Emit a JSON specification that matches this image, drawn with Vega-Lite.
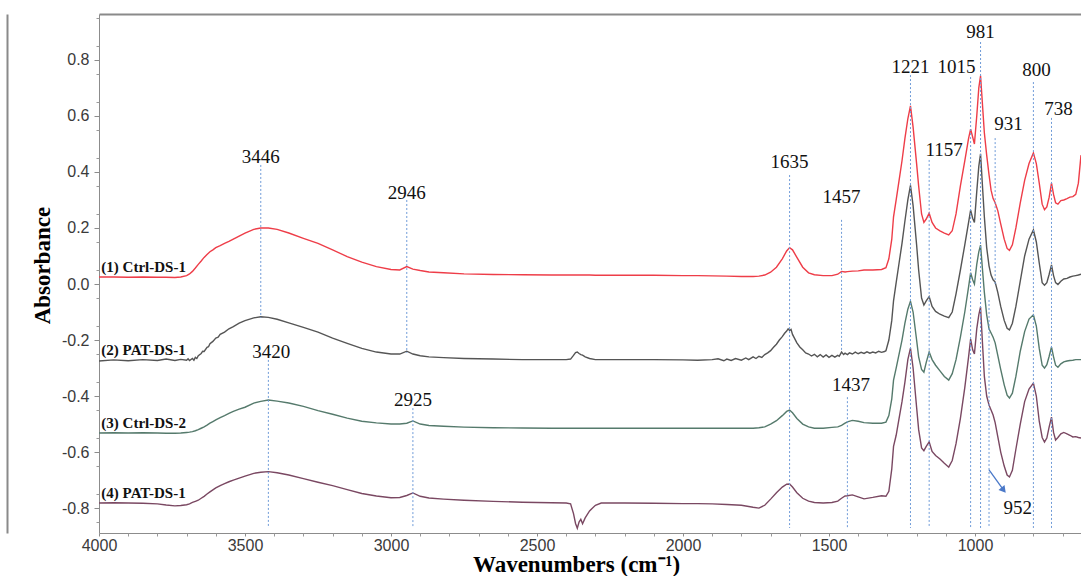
{
  "$schema": "https://vega.github.io/schema/vega-lite/v6.json",
  "width": 982,
  "height": 519,
  "autosize": {"type": "none"},
  "padding": {"left": 99, "top": 14, "right": 0, "bottom": 43},
  "background": "#ffffff",
  "config": {"view": {"stroke": null}, "font": "Liberation Sans"},
  "datasets": {
    "spectra": [
      {"wn": 4000, "s1": 0.025, "s2": -0.275, "s3": -0.532, "s4": -0.782},
      {"wn": 3950, "s1": 0.025, "s2": -0.271, "s3": -0.531, "s4": -0.781},
      {"wn": 3900, "s1": 0.024, "s2": -0.274, "s3": -0.532, "s4": -0.782},
      {"wn": 3850, "s1": 0.025, "s2": -0.27, "s3": -0.531, "s4": -0.783},
      {"wn": 3800, "s1": 0.024, "s2": -0.273, "s3": -0.532, "s4": -0.785},
      {"wn": 3770, "s1": 0.024, "s2": -0.268, "s3": -0.533, "s4": -0.789},
      {"wn": 3740, "s1": 0.023, "s2": -0.273, "s3": -0.533, "s4": -0.792},
      {"wn": 3720, "s1": 0.025, "s2": -0.269, "s3": -0.532, "s4": -0.791},
      {"wn": 3700, "s1": 0.03, "s2": -0.272, "s3": -0.53, "s4": -0.788},
      {"wn": 3695, "s2": -0.267},
      {"wn": 3690, "s1": 0.036, "s2": -0.273, "s3": -0.529, "s4": -0.785},
      {"wn": 3680, "s1": 0.045, "s2": -0.266, "s3": -0.527, "s4": -0.78},
      {"wn": 3675, "s2": -0.272},
      {"wn": 3670, "s1": 0.057, "s2": -0.262, "s3": -0.524, "s4": -0.776},
      {"wn": 3665, "s2": -0.266},
      {"wn": 3660, "s1": 0.07, "s2": -0.256, "s3": -0.52, "s4": -0.772},
      {"wn": 3650, "s1": 0.082, "s2": -0.248, "s3": -0.515, "s4": -0.765},
      {"wn": 3645, "s2": -0.24},
      {"wn": 3640, "s1": 0.095, "s2": -0.241, "s3": -0.51, "s4": -0.758},
      {"wn": 3630, "s1": 0.105, "s2": -0.226, "s3": -0.504, "s4": -0.75},
      {"wn": 3625, "s2": -0.224},
      {"wn": 3620, "s1": 0.115, "s2": -0.213, "s3": -0.497, "s4": -0.742},
      {"wn": 3610, "s1": 0.122, "s2": -0.205, "s3": -0.491, "s4": -0.735},
      {"wn": 3600, "s1": 0.13, "s2": -0.193, "s3": -0.485, "s4": -0.728},
      {"wn": 3592, "s2": -0.19},
      {"wn": 3585, "s1": 0.137, "s2": -0.18, "s3": -0.477, "s4": -0.72},
      {"wn": 3570, "s1": 0.145, "s2": -0.172, "s3": -0.47, "s4": -0.713},
      {"wn": 3555, "s1": 0.152, "s2": -0.16, "s3": -0.462, "s4": -0.706},
      {"wn": 3540, "s1": 0.16, "s2": -0.152, "s3": -0.455, "s4": -0.7},
      {"wn": 3520, "s1": 0.171, "s2": -0.14, "s3": -0.447, "s4": -0.693},
      {"wn": 3500, "s1": 0.182, "s2": -0.131, "s3": -0.44, "s4": -0.686},
      {"wn": 3470, "s1": 0.195, "s2": -0.121, "s3": -0.425, "s4": -0.676},
      {"wn": 3446, "s1": 0.2, "s2": -0.117, "s3": -0.419, "s4": -0.672},
      {"wn": 3420, "s1": 0.2, "s2": -0.119, "s3": -0.414, "s4": -0.67},
      {"wn": 3390, "s1": 0.195, "s2": -0.126, "s3": -0.418, "s4": -0.674},
      {"wn": 3350, "s1": 0.182, "s2": -0.139, "s3": -0.425, "s4": -0.682},
      {"wn": 3300, "s1": 0.163, "s2": -0.155, "s3": -0.437, "s4": -0.695},
      {"wn": 3250, "s1": 0.145, "s2": -0.172, "s3": -0.452, "s4": -0.708},
      {"wn": 3200, "s1": 0.122, "s2": -0.193, "s3": -0.465, "s4": -0.72},
      {"wn": 3150, "s1": 0.098, "s2": -0.212, "s3": -0.479, "s4": -0.734},
      {"wn": 3100, "s1": 0.078, "s2": -0.23, "s3": -0.49, "s4": -0.748},
      {"wn": 3050, "s1": 0.062, "s2": -0.243, "s3": -0.496, "s4": -0.757},
      {"wn": 3000, "s1": 0.052, "s2": -0.25, "s3": -0.5, "s4": -0.763},
      {"wn": 2970, "s1": 0.05, "s2": -0.25, "s3": -0.5, "s4": -0.762},
      {"wn": 2946, "s1": 0.062, "s2": -0.24, "s3": -0.497, "s4": -0.755},
      {"wn": 2925, "s1": 0.053, "s2": -0.25, "s3": -0.489, "s4": -0.746},
      {"wn": 2900, "s1": 0.048, "s2": -0.256, "s3": -0.5, "s4": -0.758},
      {"wn": 2870, "s1": 0.043, "s2": -0.26, "s3": -0.505, "s4": -0.764},
      {"wn": 2820, "s1": 0.04, "s2": -0.263, "s3": -0.508, "s4": -0.768},
      {"wn": 2750, "s1": 0.036, "s2": -0.266, "s3": -0.511, "s4": -0.772},
      {"wn": 2650, "s1": 0.034, "s2": -0.268, "s3": -0.513, "s4": -0.776},
      {"wn": 2550, "s1": 0.033, "s2": -0.27, "s3": -0.514, "s4": -0.779},
      {"wn": 2450, "s1": 0.032, "s2": -0.27, "s3": -0.515, "s4": -0.781},
      {"wn": 2400, "s1": 0.032, "s2": -0.27, "s3": -0.515, "s4": -0.782},
      {"wn": 2385, "s1": 0.032, "s2": -0.268, "s3": -0.515, "s4": -0.785},
      {"wn": 2375, "s1": 0.032, "s2": -0.255, "s3": -0.515, "s4": -0.82},
      {"wn": 2368, "s1": 0.032, "s2": -0.245, "s3": -0.515, "s4": -0.855},
      {"wn": 2362, "s1": 0.032, "s2": -0.243, "s3": -0.515, "s4": -0.872},
      {"wn": 2356, "s1": 0.032, "s2": -0.248, "s3": -0.515, "s4": -0.85},
      {"wn": 2350, "s1": 0.032, "s2": -0.252, "s3": -0.515, "s4": -0.84},
      {"wn": 2344, "s1": 0.032, "s2": -0.254, "s3": -0.515, "s4": -0.856},
      {"wn": 2335, "s1": 0.032, "s2": -0.26, "s3": -0.515, "s4": -0.835},
      {"wn": 2320, "s1": 0.032, "s2": -0.266, "s3": -0.515, "s4": -0.81},
      {"wn": 2300, "s1": 0.031, "s2": -0.27, "s3": -0.515, "s4": -0.79},
      {"wn": 2280, "s1": 0.031, "s2": -0.27, "s3": -0.515, "s4": -0.782},
      {"wn": 2200, "s1": 0.031, "s2": -0.27, "s3": -0.515, "s4": -0.782},
      {"wn": 2100, "s1": 0.031, "s2": -0.27, "s3": -0.515, "s4": -0.783},
      {"wn": 2000, "s1": 0.03, "s2": -0.271, "s3": -0.515, "s4": -0.784},
      {"wn": 1950, "s1": 0.03, "s2": -0.272, "s3": -0.515, "s4": -0.784},
      {"wn": 1900, "s1": 0.029, "s2": -0.27, "s3": -0.515, "s4": -0.785},
      {"wn": 1880, "s2": -0.267},
      {"wn": 1860, "s2": -0.274},
      {"wn": 1850, "s1": 0.028, "s2": -0.268, "s3": -0.515, "s4": -0.787},
      {"wn": 1835, "s2": -0.273},
      {"wn": 1820, "s2": -0.266},
      {"wn": 1800, "s1": 0.027, "s2": -0.272, "s3": -0.515, "s4": -0.79},
      {"wn": 1785, "s2": -0.264},
      {"wn": 1775, "s2": -0.27},
      {"wn": 1760, "s1": 0.027, "s2": -0.26, "s3": -0.515, "s4": -0.797},
      {"wn": 1750, "s2": -0.266},
      {"wn": 1740, "s1": 0.028, "s2": -0.258, "s3": -0.513, "s4": -0.8},
      {"wn": 1730, "s2": -0.262},
      {"wn": 1720, "s1": 0.032, "s2": -0.252, "s3": -0.51, "s4": -0.79},
      {"wn": 1710, "s2": -0.246},
      {"wn": 1700, "s1": 0.042, "s2": -0.238, "s3": -0.5, "s4": -0.768},
      {"wn": 1690, "s2": -0.226},
      {"wn": 1680, "s1": 0.06, "s2": -0.215, "s3": -0.488, "s4": -0.745},
      {"wn": 1670, "s2": -0.2},
      {"wn": 1660, "s1": 0.09, "s2": -0.188, "s3": -0.47, "s4": -0.725},
      {"wn": 1652, "s2": -0.176},
      {"wn": 1645, "s1": 0.118, "s2": -0.168, "s3": -0.455, "s4": -0.715},
      {"wn": 1640, "s2": -0.16},
      {"wn": 1635, "s1": 0.13, "s2": -0.166, "s3": -0.45, "s4": -0.714},
      {"wn": 1630, "s2": -0.162},
      {"wn": 1625, "s1": 0.122, "s2": -0.18, "s3": -0.46, "s4": -0.725},
      {"wn": 1610, "s1": 0.095, "s2": -0.21, "s3": -0.48, "s4": -0.745},
      {"wn": 1600, "s2": -0.225},
      {"wn": 1590, "s1": 0.06, "s2": -0.235, "s3": -0.5, "s4": -0.765},
      {"wn": 1580, "s2": -0.246},
      {"wn": 1570, "s1": 0.04, "s2": -0.25, "s3": -0.51, "s4": -0.775},
      {"wn": 1560, "s2": -0.257},
      {"wn": 1550, "s1": 0.033, "s2": -0.251, "s3": -0.515, "s4": -0.78},
      {"wn": 1540, "s2": -0.26},
      {"wn": 1530, "s2": -0.252},
      {"wn": 1520, "s1": 0.03, "s2": -0.261, "s3": -0.515, "s4": -0.782},
      {"wn": 1510, "s2": -0.253},
      {"wn": 1500, "s2": -0.262},
      {"wn": 1490, "s1": 0.03, "s2": -0.255, "s3": -0.512, "s4": -0.78},
      {"wn": 1480, "s2": -0.261},
      {"wn": 1470, "s1": 0.035, "s2": -0.255, "s3": -0.51, "s4": -0.775},
      {"wn": 1465, "s2": -0.258},
      {"wn": 1457, "s1": 0.045, "s2": -0.243, "s3": -0.505, "s4": -0.765},
      {"wn": 1450, "s2": -0.252},
      {"wn": 1445, "s1": 0.043, "s2": -0.247, "s3": -0.497, "s4": -0.757},
      {"wn": 1437, "s1": 0.044, "s2": -0.252, "s3": -0.492, "s4": -0.756},
      {"wn": 1430, "s2": -0.246},
      {"wn": 1420, "s1": 0.046, "s2": -0.25, "s3": -0.487, "s4": -0.753},
      {"wn": 1410, "s2": -0.243},
      {"wn": 1400, "s1": 0.047, "s2": -0.249, "s3": -0.49, "s4": -0.76},
      {"wn": 1390, "s2": -0.244},
      {"wn": 1380, "s1": 0.05, "s2": -0.248, "s3": -0.495, "s4": -0.767},
      {"wn": 1370, "s2": -0.242},
      {"wn": 1360, "s2": -0.247},
      {"wn": 1350, "s1": 0.05, "s2": -0.243, "s3": -0.497, "s4": -0.762},
      {"wn": 1340, "s2": -0.246},
      {"wn": 1330, "s2": -0.24},
      {"wn": 1320, "s1": 0.052, "s2": -0.244, "s3": -0.497, "s4": -0.756},
      {"wn": 1310, "s2": -0.241},
      {"wn": 1305, "s1": 0.058, "s2": -0.238, "s3": -0.493, "s4": -0.758},
      {"wn": 1295, "s1": 0.09, "s2": -0.2, "s3": -0.47, "s4": -0.74},
      {"wn": 1285, "s1": 0.16, "s2": -0.13, "s3": -0.41, "s4": -0.66},
      {"wn": 1279, "s1": 0.24, "s2": -0.06, "s3": -0.343, "s4": -0.58},
      {"wn": 1270, "s1": 0.3, "s2": 0.005, "s3": -0.3, "s4": -0.54},
      {"wn": 1260, "s1": 0.37, "s2": 0.075, "s3": -0.25, "s4": -0.48},
      {"wn": 1250, "s1": 0.44, "s2": 0.145, "s3": -0.2, "s4": -0.42},
      {"wn": 1240, "s1": 0.52, "s2": 0.225, "s3": -0.14, "s4": -0.35},
      {"wn": 1230, "s1": 0.59, "s2": 0.3, "s3": -0.09, "s4": -0.27},
      {"wn": 1221, "s1": 0.636, "s2": 0.352, "s3": -0.062, "s4": -0.229},
      {"wn": 1212, "s1": 0.56, "s2": 0.28, "s3": -0.1, "s4": -0.3},
      {"wn": 1200, "s1": 0.43, "s2": 0.14, "s3": -0.2, "s4": -0.44},
      {"wn": 1193, "s1": 0.35, "s2": 0.05, "s3": -0.26, "s4": -0.52},
      {"wn": 1183, "s1": 0.25, "s2": -0.05, "s3": -0.305, "s4": -0.585},
      {"wn": 1175, "s1": 0.22, "s2": -0.075, "s3": -0.315, "s4": -0.595},
      {"wn": 1167, "s1": 0.232, "s2": -0.06, "s3": -0.28, "s4": -0.58},
      {"wn": 1157, "s1": 0.253, "s2": -0.045, "s3": -0.243, "s4": -0.564},
      {"wn": 1147, "s1": 0.22, "s2": -0.08, "s3": -0.27, "s4": -0.598},
      {"wn": 1135, "s1": 0.2, "s2": -0.098, "s3": -0.29, "s4": -0.612},
      {"wn": 1120, "s1": 0.19, "s2": -0.108, "s3": -0.31, "s4": -0.625},
      {"wn": 1105, "s1": 0.182, "s2": -0.115, "s3": -0.33, "s4": -0.64},
      {"wn": 1090, "s1": 0.175, "s2": -0.12, "s3": -0.343, "s4": -0.654},
      {"wn": 1078, "s1": 0.19, "s2": -0.1, "s3": -0.32, "s4": -0.63},
      {"wn": 1065, "s1": 0.25, "s2": -0.035, "s3": -0.27, "s4": -0.57},
      {"wn": 1050, "s1": 0.35, "s2": 0.05, "s3": -0.19, "s4": -0.48},
      {"wn": 1035, "s1": 0.44, "s2": 0.14, "s3": -0.1, "s4": -0.37},
      {"wn": 1022, "s1": 0.52, "s2": 0.22, "s3": -0.01, "s4": -0.26},
      {"wn": 1015, "s1": 0.553, "s2": 0.264, "s3": 0.04, "s4": -0.197},
      {"wn": 1008, "s1": 0.525, "s2": 0.235, "s3": 0.015, "s4": -0.235},
      {"wn": 1002, "s1": 0.5, "s2": 0.22, "s3": 0.0, "s4": -0.25},
      {"wn": 994, "s1": 0.6, "s2": 0.33, "s3": 0.07, "s4": -0.16},
      {"wn": 987, "s1": 0.7, "s2": 0.42, "s3": 0.115, "s4": -0.11},
      {"wn": 981, "s1": 0.743, "s2": 0.465, "s3": 0.139, "s4": -0.082},
      {"wn": 975, "s1": 0.65, "s2": 0.36, "s3": 0.06, "s4": -0.2},
      {"wn": 968, "s1": 0.54, "s2": 0.24, "s3": -0.03, "s4": -0.33},
      {"wn": 960, "s1": 0.46, "s2": 0.13, "s3": -0.11, "s4": -0.4},
      {"wn": 952, "s1": 0.39, "s2": 0.065, "s3": -0.16, "s4": -0.432},
      {"wn": 945, "s1": 0.335, "s2": 0.032, "s3": -0.175, "s4": -0.45},
      {"wn": 938, "s1": 0.305, "s2": 0.015, "s3": -0.19, "s4": -0.468},
      {"wn": 931, "s1": 0.29, "s2": 0.007, "s3": -0.21, "s4": -0.495},
      {"wn": 922, "s1": 0.262, "s2": -0.03, "s3": -0.255, "s4": -0.545},
      {"wn": 912, "s1": 0.215, "s2": -0.08, "s3": -0.305, "s4": -0.6},
      {"wn": 900, "s1": 0.16, "s2": -0.13, "s3": -0.36, "s4": -0.65},
      {"wn": 890, "s1": 0.127, "s2": -0.158, "s3": -0.397, "s4": -0.682},
      {"wn": 882, "s1": 0.12, "s2": -0.164, "s3": -0.407, "s4": -0.689},
      {"wn": 872, "s1": 0.14, "s2": -0.14, "s3": -0.39, "s4": -0.665},
      {"wn": 860, "s1": 0.2, "s2": -0.08, "s3": -0.33, "s4": -0.59},
      {"wn": 845, "s1": 0.29, "s2": 0.01, "s3": -0.24, "s4": -0.5},
      {"wn": 830, "s1": 0.37, "s2": 0.1, "s3": -0.17, "s4": -0.42},
      {"wn": 815, "s1": 0.43, "s2": 0.16, "s3": -0.125, "s4": -0.375},
      {"wn": 800, "s1": 0.468, "s2": 0.193, "s3": -0.11, "s4": -0.354},
      {"wn": 790, "s1": 0.43, "s2": 0.15, "s3": -0.15, "s4": -0.4},
      {"wn": 780, "s1": 0.36, "s2": 0.075, "s3": -0.23, "s4": -0.49},
      {"wn": 770, "s1": 0.285, "s2": 0.005, "s3": -0.29, "s4": -0.548},
      {"wn": 762, "s1": 0.265, "s2": -0.004, "s3": -0.3, "s4": -0.564},
      {"wn": 754, "s1": 0.275, "s2": 0.005, "s3": -0.288, "s4": -0.55},
      {"wn": 746, "s1": 0.31, "s2": 0.035, "s3": -0.258, "s4": -0.51},
      {"wn": 738, "s1": 0.36, "s2": 0.068, "s3": -0.225, "s4": -0.475},
      {"wn": 731, "s1": 0.32, "s2": 0.03, "s3": -0.26, "s4": -0.53},
      {"wn": 724, "s1": 0.29, "s2": 0.005, "s3": -0.29, "s4": -0.557},
      {"wn": 716, "s1": 0.285, "s2": -0.002, "s3": -0.297, "s4": -0.548},
      {"wn": 706, "s1": 0.298, "s2": 0.01, "s3": -0.285, "s4": -0.535},
      {"wn": 696, "s1": 0.3, "s2": 0.018, "s3": -0.278, "s4": -0.53},
      {"wn": 685, "s1": 0.305, "s2": 0.02, "s3": -0.275, "s4": -0.535},
      {"wn": 675, "s1": 0.31, "s2": 0.025, "s3": -0.273, "s4": -0.54},
      {"wn": 665, "s1": 0.312, "s2": 0.028, "s3": -0.272, "s4": -0.546},
      {"wn": 655, "s1": 0.32, "s2": 0.03, "s3": -0.27, "s4": -0.545},
      {"wn": 646, "s1": 0.36, "s2": 0.032, "s3": -0.27, "s4": -0.548},
      {"wn": 637, "s1": 0.46, "s2": 0.035, "s3": -0.27, "s4": -0.55}
    ],
    "peaks": [
      {"peak": 3446, "tx": 3446, "ty": 0.454, "y1": 0.425, "y2": -0.121},
      {"peak": 2946, "tx": 2946, "ty": 0.325, "y1": 0.3, "y2": -0.246},
      {"peak": 3420, "tx": 3410, "ty": -0.243, "y1": -0.271, "y2": -0.871},
      {"peak": 2925, "tx": 2925, "ty": -0.414, "y1": -0.443, "y2": -0.871},
      {"peak": 1635, "tx": 1635, "ty": 0.436, "y1": 0.389, "y2": -0.871},
      {"peak": 1457, "tx": 1457, "ty": 0.311, "y1": 0.229, "y2": -0.236},
      {"peak": 1437, "tx": 1425, "ty": -0.361, "y1": -0.404, "y2": -0.871},
      {"peak": 1221, "tx": 1221, "ty": 0.775, "y1": 0.746, "y2": -0.871},
      {"peak": 1157, "tx": 1106, "ty": 0.479, "y1": 0.443, "y2": -0.871},
      {"peak": 1015, "tx": 1063, "ty": 0.775, "y1": 0.739, "y2": -0.871},
      {"peak": 981, "tx": 981, "ty": 0.9, "y1": 0.864, "y2": -0.871},
      {"peak": 931, "tx": 885, "ty": 0.571, "y1": 0.521, "y2": -0.004},
      {"peak": 952, "tx": 854, "ty": -0.8, "y1": -0.057, "y2": -0.871},
      {"peak": 800, "tx": 789, "ty": 0.764, "y1": 0.721, "y2": -0.871},
      {"peak": 738, "tx": 714, "ty": 0.625, "y1": 0.593, "y2": -0.871}
    ],
    "samples": [
      {"name": "(1) Ctrl-DS-1", "tx": 3992, "ty": 0.061},
      {"name": "(2) PAT-DS-1", "tx": 3992, "ty": -0.236},
      {"name": "(3) Ctrl-DS-2", "tx": 3992, "ty": -0.496},
      {"name": "(4) PAT-DS-1", "tx": 3992, "ty": -0.746}
    ],
    "pointer": [
      {"x1": 952, "y1": -0.664, "x2": 902, "y2": -0.736}
    ]
  },
  "resolve": {"axis": {"x": "independent", "y": "independent"}},
  "layer": [
    {
      "data": {"name": "spectra"},
      "transform": [
        {"fold": ["s1", "s2", "s3", "s4"], "as": ["series", "a"]},
        {"filter": "isValid(datum.a)"}
      ],
      "mark": {"type": "line", "strokeWidth": 1.4},
      "encoding": {
        "x": {
          "field": "wn", "type": "quantitative",
          "scale": {"domain": [637, 4000], "reverse": true, "nice": false, "zero": false},
          "axis": {
            "orient": "bottom", "values": [4000, 3500, 3000, 2500, 2000, 1500, 1000], "format": "d",
            "grid": false, "tickSize": 3, "tickColor": "#8c8c8c", "domainColor": "#8c8c8c",
            "labelFont": "Liberation Sans", "labelFontSize": 16, "labelColor": "#3a3a3a", "labelPadding": 1, "labelFlush": false,
            "title": "Wavenumbers (cm\u207B\u00B9)", "titleFont": "Liberation Serif", "titleFontSize": 23, "titleFontWeight": "bold",
            "titleColor": "#000000", "titleX": 477, "titleY": 31, "titleBaseline": "middle", "titleAlign": "center"
          }
        },
        "y": {
          "field": "a", "type": "quantitative",
          "scale": {"domain": [-0.889, 0.964], "nice": false, "zero": false},
          "axis": {
            "orient": "left", "values": [-0.8, -0.6, -0.4, -0.2, 0, 0.2, 0.4, 0.6, 0.8],
            "labelExpr": "replace(format(datum.value, '.1f'), '\u2212', '-')",
            "grid": false, "tickSize": 5, "tickColor": "#8c8c8c", "domainColor": "#8c8c8c",
            "labelFont": "Liberation Sans", "labelFontSize": 16, "labelColor": "#3a3a3a", "labelPadding": 5,
            "title": "Absorbance", "titleFont": "Liberation Serif", "titleFontSize": 23, "titleFontWeight": "bold",
            "titleColor": "#000000", "titleX": -57, "titleY": 251, "titleBaseline": "middle", "titleAlign": "center"
          }
        },
        "color": {
          "field": "series", "type": "nominal",
          "scale": {"domain": ["s1", "s2", "s3", "s4"], "range": ["#ee3d48", "#555555", "#557a6c", "#7a4862"]},
          "legend": null
        }
      }
    },
    {
      "data": {"name": "peaks"},
      "mark": {"type": "rule", "color": "#6f9bd8", "strokeWidth": 1, "strokeDash": [2, 2]},
      "encoding": {
        "x": {
          "field": "peak", "type": "quantitative",
          "scale": {"domain": [637, 4000], "reverse": true, "nice": false, "zero": false},
          "axis": {
            "orient": "bottom", "values": [700, 800, 900, 1100, 1200, 1300, 1400, 1600, 1700, 1800, 1900, 2100, 2200, 2300, 2400, 2600, 2700, 2800, 2900, 3100, 3200, 3300, 3400, 3600, 3700, 3800, 3900],
            "labels": false, "domain": false, "grid": false, "tickSize": 3, "tickColor": "#999999", "title": null
          }
        },
        "y": {
          "field": "y1", "type": "quantitative",
          "scale": {"domain": [-0.889, 0.964], "nice": false, "zero": false},
          "axis": {
            "orient": "left", "values": [-0.85, -0.75, -0.65, -0.55, -0.45, -0.35, -0.25, -0.15, -0.05, 0.05, 0.15, 0.25, 0.35, 0.45, 0.55, 0.65, 0.75, 0.85, 0.95],
            "labels": false, "domain": false, "grid": false, "tickSize": 3, "tickColor": "#999999", "title": null
          }
        },
        "y2": {"field": "y2"}
      }
    },
    {
      "data": {"name": "peaks"},
      "mark": {"type": "text", "font": "Liberation Serif", "fontSize": 19, "color": "#111111", "align": "center", "baseline": "middle"},
      "encoding": {
        "x": {
          "field": "tx", "type": "quantitative",
          "scale": {"domain": [637, 4000], "reverse": true, "nice": false, "zero": false},
          "axis": {"orient": "top", "domain": true, "domainColor": "#8a8a8a", "domainWidth": 2, "ticks": false, "labels": false, "grid": false, "title": null}
        },
        "y": {
          "field": "ty", "type": "quantitative",
          "scale": {"domain": [-0.889, 0.964], "nice": false, "zero": false},
          "axis": {"orient": "left", "offset": 92, "domain": true, "domainColor": "#8a8a8a", "domainWidth": 2, "ticks": false, "labels": false, "grid": false, "title": null}
        },
        "text": {"field": "peak", "type": "quantitative", "format": "d"}
      }
    },
    {
      "data": {"name": "samples"},
      "mark": {"type": "text", "font": "Liberation Serif", "fontSize": 15, "fontWeight": "bold", "color": "#111111", "align": "left", "baseline": "middle"},
      "encoding": {
        "x": {"field": "tx", "type": "quantitative", "scale": {"domain": [637, 4000], "reverse": true, "nice": false, "zero": false}, "axis": null},
        "y": {"field": "ty", "type": "quantitative", "scale": {"domain": [-0.889, 0.964], "nice": false, "zero": false}, "axis": null},
        "text": {"field": "name", "type": "nominal"}
      }
    },
    {
      "data": {"name": "pointer"},
      "mark": {"type": "rule", "color": "#4a78c8", "strokeWidth": 1.3},
      "encoding": {
        "x": {"field": "x1", "type": "quantitative", "scale": {"domain": [637, 4000], "reverse": true, "nice": false, "zero": false}, "axis": null},
        "y": {"field": "y1", "type": "quantitative", "scale": {"domain": [-0.889, 0.964], "nice": false, "zero": false}, "axis": null},
        "x2": {"field": "x2"},
        "y2": {"field": "y2"}
      }
    },
    {
      "data": {"name": "pointer"},
      "mark": {"type": "point", "shape": "triangle-up", "filled": true, "size": 60, "angle": 141, "color": "#4a78c8", "opacity": 1},
      "encoding": {
        "x": {"field": "x2", "type": "quantitative", "scale": {"domain": [637, 4000], "reverse": true, "nice": false, "zero": false}, "axis": null},
        "y": {"field": "y2", "type": "quantitative", "scale": {"domain": [-0.889, 0.964], "nice": false, "zero": false}, "axis": null}
      }
    }
  ]
}
